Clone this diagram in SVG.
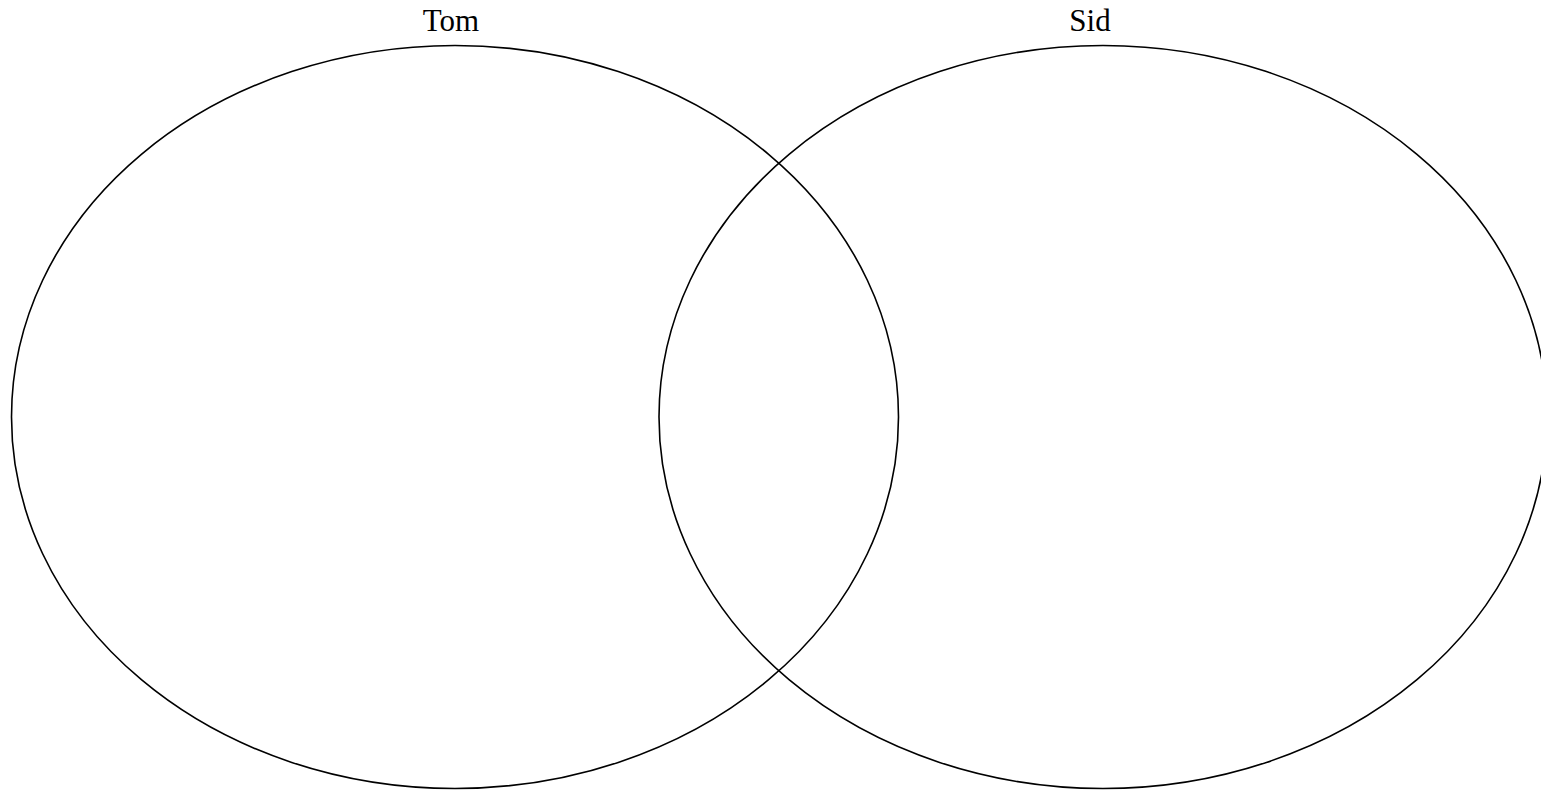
<svg xmlns="http://www.w3.org/2000/svg" width="1541" height="791" viewBox="0 0 1541 791">
<style>
.set{fill:none;stroke:#000;stroke-width:1.6}
.lbl{font-family:"Liberation Serif","Times New Roman",serif;font-size:31px;fill:#000;text-anchor:middle}
</style>
<rect width="1541" height="791" fill="#fff"/>
<g id="tom">
<ellipse class="set" cx="455" cy="417" rx="443.5" ry="371.5"/>
<text class="lbl" x="451" y="31">Tom</text>
</g>
<g id="sid">
<ellipse class="set" cx="1103" cy="417" rx="444" ry="371.5"/>
<text class="lbl" x="1090" y="31">Sid</text>
</g>
<g id="connectors"></g>
</svg>
